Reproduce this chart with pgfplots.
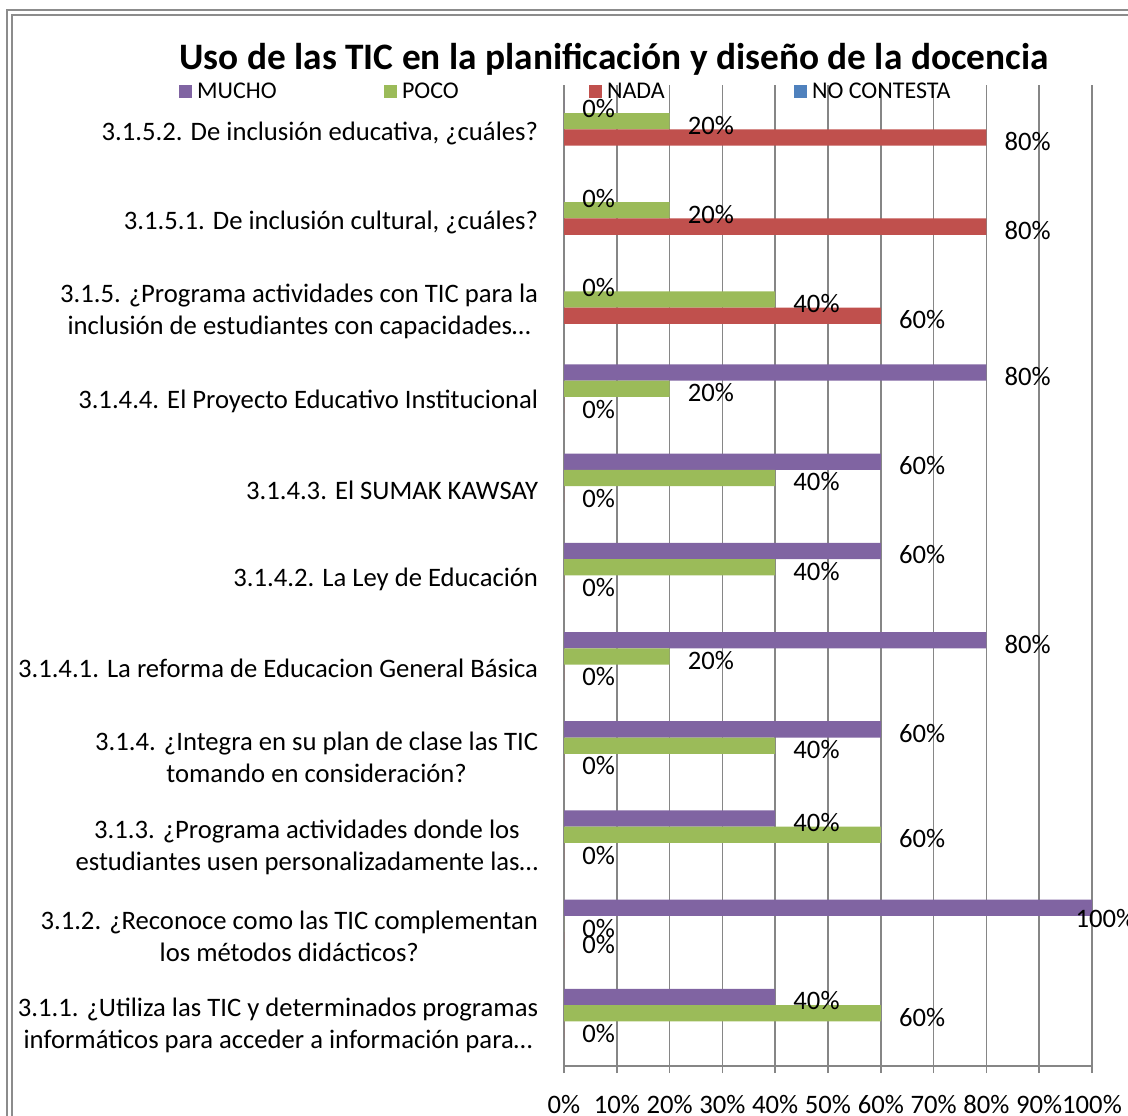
\documentclass[border=0pt]{standalone}
\usepackage{fontspec}
\setmainfont{Carlito}
\usepackage{pgfplots}
\usepackage{pgfplotstable}
\pgfplotsset{compat=1.18}
\definecolor{cM}{HTML}{8064A2}
\definecolor{cP}{HTML}{9BBB59}
\definecolor{cN}{HTML}{C0504D}
\definecolor{cNC}{HTML}{4F81BD}
\definecolor{gridc}{HTML}{868686}
\definecolor{bordc}{HTML}{8C8C8C}

\pgfplotstableread{
y M P N
0 40 60 0
1 100 0 0
2 40 60 0
3 60 40 0
4 80 20 0
5 60 40 0
6 60 40 0
7 80 20 0
8 0 40 60
9 0 20 80
10 0 20 80
}\data

\begin{document}
\begin{tikzpicture}
\useasboundingbox (0,0) rectangle (846pt,-836.25pt);
\draw[bordc, line width=1.4pt] (5.25pt,-870pt) -- (5.25pt,-7.5pt) -- (880pt,-7.5pt);
\draw[bordc, line width=1.4pt] (9pt,-870pt) -- (9pt,-11.25pt) -- (880pt,-11.25pt);
\begin{axis}[
  at={(423pt,-799.5pt)}, anchor=south west,
  scale only axis, width=396pt, height=736pt,
  xbar, bar width=12.2pt,
  xmin=0, xmax=100, ymin=-0.5, ymax=10.5,
  axis x line*=bottom, axis y line*=left,
  axis line style={gridc, line width=1.2pt, -},
  xmajorgrids, major grid style={gridc, line width=1.2pt},
  xtick={0,10,...,100},
  xticklabels={0\%,10\%,20\%,30\%,40\%,50\%,60\%,70\%,80\%,90\%,100\%},
  tick align=outside, major tick length=5.25pt,
  xtick style={gridc, line width=1.2pt},
  xticklabel style={font=\fontsize{20pt}{24pt}\selectfont, anchor=base, inner sep=0pt, yshift=-30pt},
  ytick={0,...,10},
  ytick style={draw=none},
  yticklabels={
    {3.1.1. ¿Utiliza las TIC y determinados programas\\informáticos para acceder a información para…},
    {3.1.2. ¿Reconoce como las TIC complementan\\los métodos didácticos?},
    {3.1.3. ¿Programa actividades donde los\\estudiantes usen personalizadamente las…},
    {3.1.4. ¿Integra en su plan de clase las TIC\\tomando en consideración?},
    {3.1.4.1. La reforma de Educacion General Básica},
    {3.1.4.2. La Ley de Educación},
    {3.1.4.3. El SUMAK KAWSAY},
    {3.1.4.4. El Proyecto Educativo Institucional},
    {3.1.5. ¿Programa actividades con TIC para la\\inclusión de estudiantes con capacidades…},
    {3.1.5.1. De inclusión cultural, ¿cuáles?},
    {3.1.5.2. De inclusión educativa, ¿cuáles?}},
  yticklabel style={font=\fontsize{20pt}{24pt}\selectfont, align=center, anchor=east, inner sep=0pt, xshift=-14pt, yshift=-3pt},
  point meta=x,
  nodes near coords={\pgfmathprintnumber[assume math mode=true]{\pgfplotspointmeta}\%},
  every node near coord/.append style={font=\fontsize{20pt}{24pt}\selectfont, anchor=west, inner sep=0pt, xshift=13.5pt, yshift=-3pt, text=black},
  coordinate style/.condition={x==100}{xshift=-26pt, yshift=-5pt},
  title={Uso de las TIC en la planificación y diseño de la docencia},
  title style={at={(axis description cs:0.0947,1.0068)}, anchor=base, font=\fontsize{28pt}{32pt}\selectfont\bfseries, inner sep=0pt},
  legend columns=4,
  legend image code/.code={\fill[#1] (0pt,-4.875pt) rectangle (9.75pt,4.875pt);},
  legend style={at={(axis description cs:-0.729,0.993)}, anchor=west, draw=none, fill=none,
    inner sep=0pt, outer sep=0pt,
    nodes={inner sep=0pt, font=\fontsize{18pt}{20pt}\selectfont},
    /tikz/every odd column/.style={column sep=3.75pt},
    /tikz/every even column/.style={column sep=0pt}},
]
\addplot[fill=cM, draw=none, bar shift=18.3pt] table[x=M, y=y] {\data};
\addlegendentry{\makebox[140.25pt][l]{MUCHO}}
\addplot[fill=cP, draw=none, bar shift=6.1pt] table[x=P, y=y] {\data};
\addlegendentry{\makebox[140.25pt][l]{POCO}}
\addplot[fill=cN, draw=none, bar shift=-6.1pt] table[x=N, y=y] {\data};
\addlegendentry{\makebox[140.25pt][l]{NADA}}
\addlegendimage{fill=cNC, draw=none}
\addlegendentry{NO CONTESTA}
\end{axis}
\end{tikzpicture}
\end{document}
